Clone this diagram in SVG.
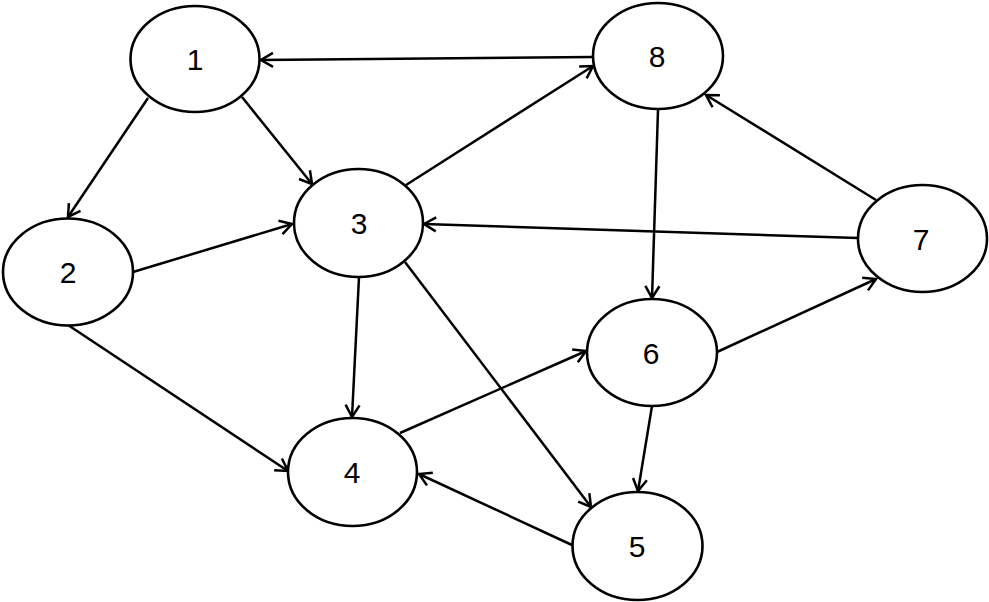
<svg xmlns="http://www.w3.org/2000/svg" width="989" height="602" viewBox="0 0 989 602">
<style>
.node ellipse{fill:#fff;stroke:#000;stroke-width:2.6}
.node text{font-family:"Liberation Sans",Arial,sans-serif;font-size:30px;text-anchor:middle;fill:#000}
#edges line{stroke:#000;stroke-width:2.5;marker-end:url(#arr)}
</style>
<defs>
<marker id="arr" markerUnits="userSpaceOnUse" viewBox="-14 -9 16 18" refX="0" refY="0" markerWidth="16" markerHeight="18" orient="auto" overflow="visible">
<path d="M-12,-7 L0,0 L-12,7" fill="none" stroke="#000" stroke-width="2.5"/>
</marker>
</defs>
<rect width="989" height="602" fill="#fff"/>
<g id="edges">
<line x1="593" y1="57" x2="261" y2="60"/>
<line x1="148" y1="98" x2="68" y2="217"/>
<line x1="242" y1="97" x2="312" y2="184"/>
<line x1="133" y1="272" x2="292" y2="224"/>
<line x1="406" y1="185" x2="593" y2="66"/>
<line x1="858" y1="238" x2="424" y2="224"/>
<line x1="658" y1="110" x2="652" y2="298"/>
<line x1="876" y1="200" x2="706" y2="95"/>
<line x1="717" y1="352" x2="876" y2="279"/>
<line x1="359" y1="277" x2="352" y2="417"/>
<line x1="405" y1="262" x2="591" y2="507"/>
<line x1="68" y1="325" x2="288" y2="471"/>
<line x1="400" y1="433" x2="586" y2="351"/>
<line x1="652" y1="406" x2="638" y2="491"/>
<line x1="572" y1="545" x2="419" y2="474"/>
</g>
<g id="n1" class="node"><ellipse cx="195" cy="59" rx="64.5" ry="53"/><text x="195" y="70">1</text></g>
<g id="n2" class="node"><ellipse cx="68" cy="272" rx="65" ry="53.5"/><text x="68" y="283">2</text></g>
<g id="n3" class="node"><ellipse cx="358.5" cy="223" rx="64.5" ry="54"/><text x="359" y="234">3</text></g>
<g id="n4" class="node"><ellipse cx="352.5" cy="472" rx="64.5" ry="54"/><text x="352" y="483">4</text></g>
<g id="n5" class="node"><ellipse cx="637.5" cy="546" rx="65" ry="54"/><text x="637" y="557">5</text></g>
<g id="n6" class="node"><ellipse cx="652" cy="352.5" rx="65" ry="53.5"/><text x="651" y="364">6</text></g>
<g id="n7" class="node"><ellipse cx="922.5" cy="238.5" rx="64.5" ry="53.5"/><text x="921" y="250">7</text></g>
<g id="n8" class="node"><ellipse cx="658" cy="56" rx="65" ry="53"/><text x="657" y="67">8</text></g>
</svg>
